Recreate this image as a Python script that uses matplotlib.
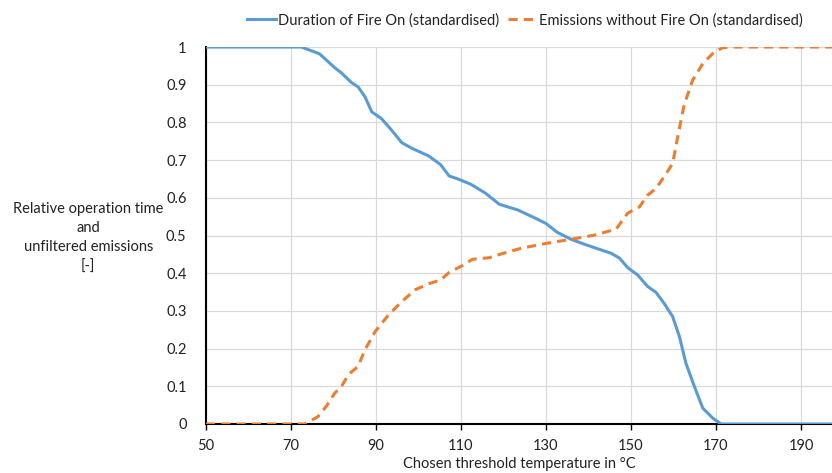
import matplotlib
matplotlib.use('Agg')
import matplotlib.pyplot as plt

plt.rcParams['font.family'] = ['Lato', 'DejaVu Sans']

# Duration of Fire On (standardised)
fire_temp = [50, 72.4, 76.7, 80.3, 81.9, 84.2, 85.8, 87.4, 89.0, 91.3, 93.7, 96.1, 98.5,
             102.4, 105.2, 107.2, 109.5, 112.3, 115.8, 119.0, 123.3, 127.3, 130.0, 132.7,
             135.9, 139.0, 142.9, 145.3, 147.3, 149.2, 151.6, 153.9, 155.9, 157.8, 159.8,
             161.4, 162.9, 164.9, 166.9, 169.2, 171.2, 198]
fire_on = [1, 1, 0.982, 0.945, 0.931, 0.906, 0.894, 0.868, 0.828, 0.810, 0.779, 0.746, 0.731,
           0.711, 0.688, 0.658, 0.649, 0.636, 0.612, 0.583, 0.568, 0.547, 0.532, 0.508,
           0.490, 0.477, 0.462, 0.453, 0.440, 0.415, 0.395, 0.365, 0.349, 0.320, 0.285,
           0.232, 0.162, 0.100, 0.042, 0.016, 0, 0]

# Emissions without Fire On (standardised)
emis_temp = [50, 73.2, 76.3, 78.3, 80.3, 81.9, 83.5, 85.8, 87.4, 89.8, 92.9, 96.1, 99.2,
             102.4, 105.2, 107.2, 110.3, 112.7, 116.6, 119.4, 124.1, 130.0, 135.9, 141.4,
             146.5, 149.2, 152.0, 153.9, 155.9, 157.8, 159.8, 161.0, 162.5, 164.5, 166.9,
             169.6, 171.6, 173.5, 198]
emissions = [0, 0, 0.019, 0.047, 0.082, 0.100, 0.131, 0.153, 0.197, 0.245, 0.289, 0.325, 0.356,
             0.372, 0.382, 0.402, 0.420, 0.437, 0.441, 0.451, 0.466, 0.479, 0.490, 0.501,
             0.517, 0.559, 0.576, 0.607, 0.625, 0.656, 0.691, 0.762, 0.846, 0.912, 0.956,
             0.987, 0.998, 1.0, 1.0]

x_ticks = [50, 70, 90, 110, 130, 150, 170, 190]
y_ticks = [0, 0.1, 0.2, 0.3, 0.4, 0.5, 0.6, 0.7, 0.8, 0.9, 1]
y_labels = ['0', '0.1', '0.2', '0.3', '0.4', '0.5', '0.6', '0.7', '0.8', '0.9', '1']

fig = plt.figure(figsize=(8.32, 4.73), dpi=100)
ax = fig.add_axes([0.2476, 0.1036, 0.7524, 0.797])

ax.plot(fire_temp, fire_on, color='#5B9BD5', lw=2.2, label='Duration of Fire On (standardised)', zorder=3)
ax.plot(emis_temp, emissions, color='#ED7D31', lw=2.2, ls=(0, (3, 2)),
        label='Emissions without Fire On (standardised)', zorder=3)

ax.set_xlim(50, 197.3)
ax.set_ylim(0, 1)
ax.set_xticks(x_ticks)
ax.set_yticks(y_ticks)
ax.set_yticklabels(y_labels)
ax.grid(True, color='#d9d9d9', lw=0.9)
ax.set_axisbelow(True)
for s in ['top', 'right']:
    ax.spines[s].set_visible(False)
for s in ['left', 'bottom']:
    ax.spines[s].set_linewidth(1.5)
    ax.spines[s].set_color('black')
ax.tick_params(axis='y', length=0, pad=14, labelsize=10.5, colors='#222222')
ax.tick_params(axis='x', length=4, width=1, pad=7, labelsize=10.5, colors='black', labelcolor='#222222')

ax.set_xlabel('Chosen threshold temperature in °C', fontsize=10.5, color='#222222', labelpad=3)

fig.text(0.106, 0.497, 'Relative operation time\nand\nunfiltered emissions\n[-]',
         ha='center', va='center', fontsize=10.5, color='#222222', linespacing=1.45)

fig.legend(loc='center', bbox_to_anchor=(0.631, 0.957), ncol=2, frameon=False,
           fontsize=10.5, handlelength=2.0, handletextpad=0.15, columnspacing=0.6,
           labelcolor='#222222')

plt.savefig('out.png', dpi=100)
